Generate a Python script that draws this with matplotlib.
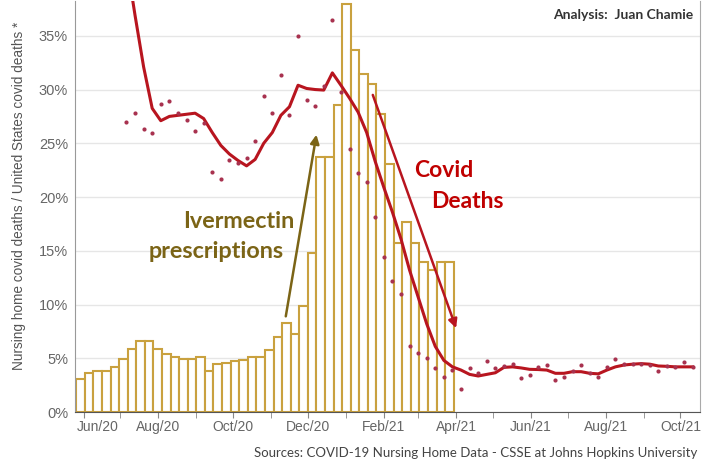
import matplotlib.pyplot as plt
import matplotlib.dates as mdates
import matplotlib.transforms as mtransforms
import numpy as np
import pandas as pd

# weekly ivermectin prescriptions (scaled, bars)
bar_start = '2020-05-26'
ivermectin = [3.1, 3.6, 3.85, 3.85, 4.2, 4.9, 5.9, 6.6, 6.6, 5.9, 5.4, 5.15, 4.9, 4.9, 5.15, 3.85,
              4.5, 4.55, 4.75, 4.85, 5.1, 5.15, 5.8, 6.95, 8.25, 7.25, 9.85, 14.8, 23.75, 23.75,
              28.55, 38.0, 33.7, 31.4, 30.5, 27.7, 23.1, 15.7, 17.7, 15.7, 14.0, 13.2, 14.0, 14.0]

# weekly share of US covid deaths in nursing homes (dots) and its smoothed trend (line)
dot_start = '2020-07-06'
deaths = [27.0, 27.8, 26.3, 26.0, 28.7, 28.95, 27.8, 27.2, 26.1, 26.9,
          22.35, 21.7, 23.4, 23.2, 23.65, 25.2, 29.4, 27.8, 31.35, 27.6,
          35.0, 29.0, 28.5, 30.3, 36.5, 29.8, 24.5, 22.2, 21.4, 18.1,
          14.45, 12.2, 11.0, 6.1, 5.45, 5.05, 4.1, 3.3, 3.9, 2.1,
          4.1, 3.6, 4.75, 4.05, 4.3, 4.45, 3.2, 3.45, 4.2, 4.37,
          2.97, 3.25, 3.8, 4.37, 3.6, 3.25, 4.15, 4.9, 4.43, 4.43,
          4.5, 4.4, 3.85, 4.3, 4.15, 4.68, 4.2]
trend = [42.0, 36.9, 32.1, 28.25, 27.1, 27.5, 27.6, 27.7, 27.8, 27.3,
         26.0, 24.8, 24.0, 23.4, 22.9, 23.5, 25.0, 26.0, 27.6, 28.4,
         30.4, 30.1, 30.0, 29.95, 31.55, 30.4, 29.2, 27.9, 26.0, 23.3,
         20.9, 18.6, 16.1, 13.2, 10.7, 8.2, 6.1, 4.8, 4.2, 3.9,
         3.5, 3.35, 3.5, 3.65, 4.15, 4.2, 4.1, 3.97, 3.95, 3.9,
         3.6, 3.6, 3.75, 3.75, 3.6, 3.55, 3.9, 4.2, 4.37, 4.45,
         4.5, 4.45, 4.28, 4.25, 4.2, 4.2, 4.2]

GOLD = '#c9a13f'
RED = '#b8151f'
OLIVE = '#7b6416'

bar_x = mdates.date2num(pd.date_range(bar_start, periods=len(ivermectin), freq='7D'))
dot_x = mdates.date2num(pd.date_range(dot_start, periods=len(deaths), freq='7D'))


def d(s):
    return mdates.date2num(pd.Timestamp(s))


fig = plt.figure(figsize=(7.16, 4.67), dpi=100)
ax = fig.add_axes([75 / 716, 1 - 412 / 467, 625 / 716, 410.6 / 467])

ax.bar(bar_x, ivermectin, width=7, align='edge', facecolor='white',
       edgecolor=GOLD, linewidth=1.5, zorder=2)
ax.plot(dot_x, trend, color=RED, lw=2.2, zorder=4, solid_joinstyle='round')
ax.plot(dot_x, deaths, 'o', color='#a8324f', ms=3, mew=0, zorder=5)

ax.set_xlim(d('2020-05-25'), d('2021-10-17'))
ax.set_ylim(0, 38.2)
ax.set_yticks(np.arange(0, 36, 5))
ax.yaxis.set_major_formatter(plt.FuncFormatter(lambda v, p: f'{v:.0f}%'))
ax.yaxis.grid(True, color='#e6e6e6', lw=1)
ax.set_axisbelow(True)

ax.xaxis.set_major_locator(mdates.MonthLocator(bymonth=[2, 4, 6, 8, 10, 12]))
ax.xaxis.set_minor_locator(mdates.MonthLocator())
ax.xaxis.set_major_formatter(mdates.DateFormatter('%b/%y'))
ax.tick_params(axis='x', which='both', length=4, color='#888', pad=2,
               labelsize=10, labelcolor='#666')
ax.tick_params(axis='y', length=0, pad=5, labelsize=10.5, labelcolor='#666')
for lab in ax.get_xticklabels() + ax.get_yticklabels():
    lab.set_family('Liberation Sans')

# first label sits a bit right of its tick, as in the original
first = ax.get_xticklabels()[0]
first.set_transform(first.get_transform() + mtransforms.ScaledTranslation(14 / 100, 0, fig.dpi_scale_trans))

ax.spines['top'].set_visible(False)
ax.spines['left'].set_color('#999')
ax.spines['right'].set_color('#aaa')
ax.spines['bottom'].set_color('#555')

# annotations
ax.annotate('', xy=(d('2020-12-08'), 25.8), xytext=(d('2020-11-13'), 8.9),
            arrowprops=dict(arrowstyle='-|>', color=OLIVE, lw=1.8, mutation_scale=13,
                            shrinkA=0, shrinkB=0), zorder=6)
ax.annotate('', xy=(d('2021-04-01'), 7.8), xytext=(d('2021-01-23'), 29.5),
            arrowprops=dict(arrowstyle='-|>', color=RED, lw=1.8, mutation_scale=13,
                            shrinkA=0, shrinkB=0), zorder=6)
ax.text(d('2020-11-20'), 17.1, 'Ivermectin', color=OLIVE, fontsize=16.8,
        fontweight='bold', family='Lato', ha='right', va='baseline')
ax.text(d('2020-11-11'), 14.3, 'prescriptions', color=OLIVE, fontsize=16.8,
        fontweight='bold', family='Lato', ha='right', va='baseline')
ax.text(d('2021-02-26'), 21.9, 'Covid', color='#c00000', fontsize=16.5,
        fontweight='bold', family='Lato', ha='left', va='baseline')
ax.text(d('2021-03-12'), 19.0, 'Deaths', color='#c00000', fontsize=16.5,
        fontweight='bold', family='Lato', ha='left', va='baseline')

fig.text(693 / 716, 1 - 19 / 467, 'Analysis:  Juan Chamie', color='#333',
         fontsize=10, fontweight='bold', family='Lato', ha='right', va='baseline')
fig.text(697 / 716, 1 - 457 / 467,
         'Sources: COVID-19 Nursing Home Data - CSSE at Johns Hopkins University',
         color='#444', fontsize=9.5, family='Lato', ha='right', va='baseline')
fig.text(19 / 716, 1 - 196 / 467,
         'Nursing home covid deaths / United States covid deaths *',
         color='#555', fontsize=9.8, family='Liberation Sans', rotation=90,
         ha='center', va='center')

fig.savefig('out.png', dpi=100)
